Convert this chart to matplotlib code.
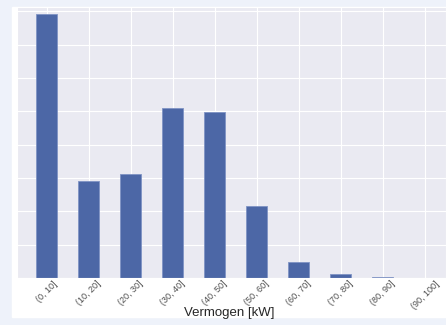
import matplotlib
matplotlib.use("Agg")
import matplotlib.pyplot as plt
import seaborn as sns
import numpy as np

sns.set_style("darkgrid")
plt.rcParams["font.family"] = ["Liberation Sans", "DejaVu Sans"]

categories = ["(0, 10]", "(10, 20]", "(20, 30]", "(30, 40]", "(40, 50]",
              "(50, 60]", "(60, 70]", "(70, 80]", "(80, 90]", "(90, 100]"]
counts = [793, 291, 312, 510, 498, 216, 48, 12, 2, 0]

fig = plt.figure(figsize=(4.46, 3.25), dpi=100)
fig.patch.set_facecolor("#eef2fa")
# white figure area (the screenshot is cropped on the left/right)
fig.add_artist(plt.Rectangle((12/446, 8/325), 1, 1 - 15/325,
                             transform=fig.transFigure, color="white", zorder=0))

ax = fig.add_axes([17/446, 47/325, 1 - 17/446, (278 - 7)/325])
x = np.arange(len(categories))
ax.bar(x, counts, width=0.5, color="#4c67a6", edgecolor="#7f93c4", linewidth=0.6, zorder=2)
ax.set_xlim(-0.714, 9.5)
ax.set_ylim(0, 813)
ax.set_yticks(np.arange(0, 900, 100))
ax.set_yticklabels([])
ax.tick_params(axis="y", length=0)
ax.set_xticks(x)
ax.set_xticklabels(categories, rotation=45, fontsize=6.5, color=".3")
ax.tick_params(axis="x", pad=1, length=0)
ax.set_xlabel("Vermogen [kW]", fontsize=9.5, color=".15")
ax.xaxis.set_label_coords((229 - 17) / (446 - 17), -29 / 271)
ax.set_facecolor("#eaeaf2")

fig.savefig("out.png", dpi=100)
